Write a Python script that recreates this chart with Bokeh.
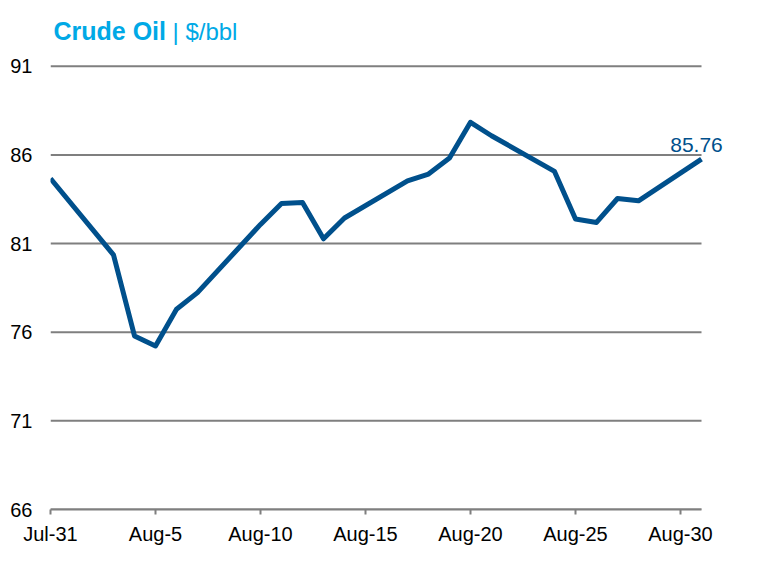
from datetime import date
from bokeh.plotting import figure
from bokeh.models import Range1d, FixedTicker, Label, ColumnDataSource
from bokeh.embed import file_html
from bokeh.resources import INLINE

# ---- data ----
dates = ["2026-07-31", "2026-08-03", "2026-08-04", "2026-08-05", "2026-08-06", "2026-08-07",
         "2026-08-10", "2026-08-11", "2026-08-12", "2026-08-13", "2026-08-14",
         "2026-08-17", "2026-08-18", "2026-08-19", "2026-08-20", "2026-08-21",
         "2026-08-24", "2026-08-25", "2026-08-26", "2026-08-27", "2026-08-28",
         "2026-08-31"]
prices = [84.67, 80.36, 75.79, 75.22, 77.29, 78.23,
          82.08, 83.26, 83.32, 81.27, 82.44,
          84.54, 84.92, 85.82, 87.84, 87.08,
          85.07, 82.38, 82.19, 83.54, 83.41,
          85.76]
tick_days = [0, 5, 10, 15, 20, 25, 30]
tick_labels = ["Jul-31", "Aug-5", "Aug-10", "Aug-15", "Aug-20", "Aug-25", "Aug-30"]
y_ticks = [66, 71, 76, 81, 86, 91]
title_main = "Crude Oil"
title_unit = "| $/bbl"
last_label = "85.76"

start = date.fromisoformat(dates[0])
days = [(date.fromisoformat(d) - start).days for d in dates]
x_end = (date(2026, 8, 31) - start).days

FONT = "Liberation Sans"
LINE = "#00508C"
TITLE_C = "#00A9E6"
GRID = "#7F7F7F"

PX_DAY = 21.0
PX_UNIT = 17.73
FW, FH = 724, 509

p = figure(frame_width=FW, frame_height=FH,
           min_border_left=50, min_border_right=0, min_border_top=0, min_border_bottom=55,
           x_range=Range1d(0, FW / PX_DAY), y_range=Range1d(66, 66 + FH / PX_UNIT),
           output_backend="svg", toolbar_location=None, title=None)
p.outline_line_color = None
p.background_fill_color = "white"
p.border_fill_color = "white"

# horizontal gridlines across the date span
p.segment(x0=[0] * len(y_ticks), x1=[x_end] * len(y_ticks), y0=y_ticks, y1=y_ticks,
          line_color=GRID, line_width=2)

src = ColumnDataSource(dict(x=days, y=prices))
p.line("x", "y", source=src, line_color=LINE, line_width=5, line_join="round")

# axes
p.xaxis.ticker = FixedTicker(ticks=tick_days)
p.xaxis.bounds = (0, x_end)
p.xaxis.major_label_overrides = {d: l for d, l in zip(tick_days, tick_labels)}
p.xaxis.axis_line_color = GRID
p.xaxis.axis_line_width = 2
p.xaxis.major_tick_line_color = GRID
p.xaxis.major_tick_line_width = 2
p.xaxis.major_tick_out = 5
p.xaxis.major_tick_in = 0
p.xaxis.minor_tick_line_color = None
p.xaxis.major_label_standoff = 8
p.xaxis.major_label_text_font = FONT
p.xaxis.major_label_text_font_size = "20px"
p.xaxis.major_label_text_color = "black"

p.yaxis.ticker = FixedTicker(ticks=y_ticks)
p.yaxis.axis_line_color = None
p.yaxis.major_tick_line_color = None
p.yaxis.minor_tick_line_color = None
p.yaxis.major_tick_out = 0
p.yaxis.major_tick_in = 0
p.yaxis.major_label_standoff = 18
p.yaxis.major_label_text_font = FONT
p.yaxis.major_label_text_font_size = "20px"
p.yaxis.major_label_text_color = "black"

p.xgrid.grid_line_color = None
p.ygrid.grid_line_color = None

# last value label
p.add_layout(Label(x=days[-1], y=prices[-1], text=last_label, x_offset=-5, y_offset=14,
                   text_align="center", text_baseline="alphabetic",
                   text_font=FONT, text_font_size="21px", text_color=LINE))

# title (two parts)
p.add_layout(Label(x=days[0], y=y_ticks[-1], text=title_main, x_offset=3, y_offset=35,
                   text_align="left", text_baseline="alphabetic",
                   text_font=FONT, text_font_size="25px", text_font_style="bold",
                   text_color=TITLE_C))
p.add_layout(Label(x=days[0], y=y_ticks[-1], text=title_unit, x_offset=122, y_offset=35,
                   text_align="left", text_baseline="alphabetic",
                   text_font=FONT, text_font_size="24px", text_color=TITLE_C))

open("out.html", "w").write(file_html(p, INLINE))
